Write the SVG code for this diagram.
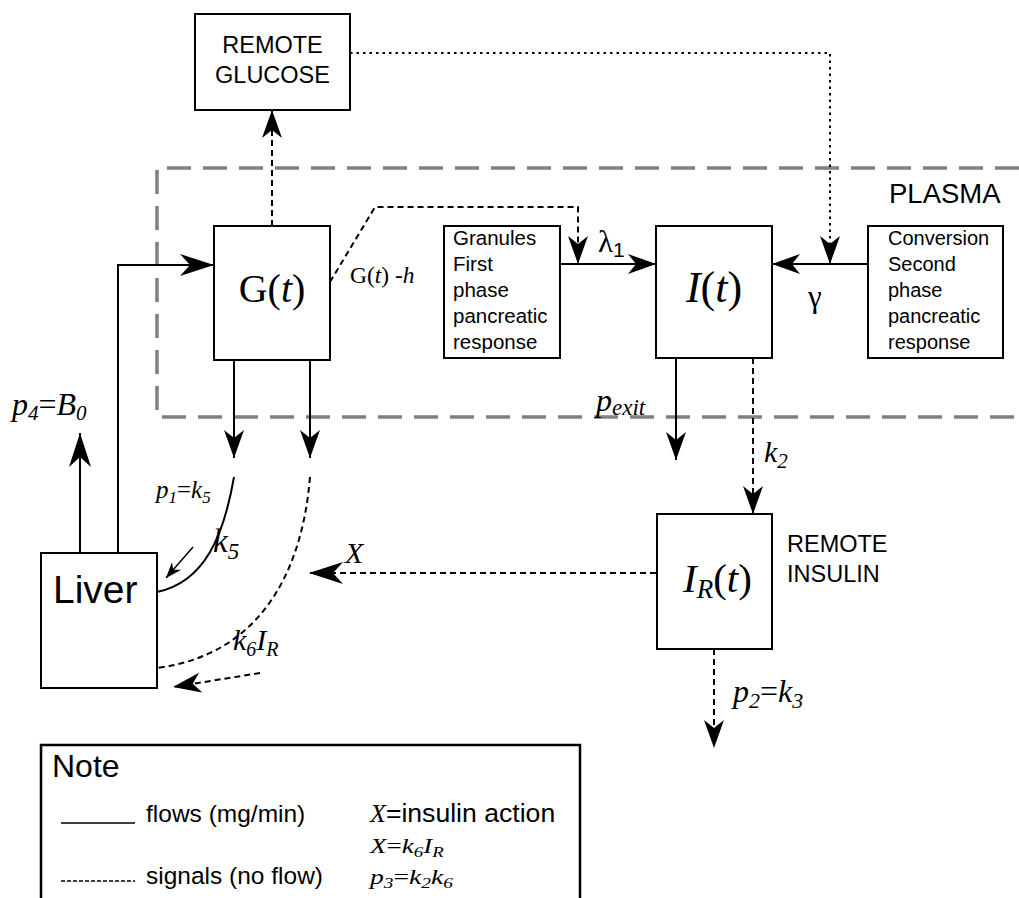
<svg xmlns="http://www.w3.org/2000/svg" width="1019" height="898" viewBox="0 0 1019 898">
  <defs>
    <style>
      .box { fill: #fff; stroke: #000; stroke-width: 2; }
      .flow { fill: none; stroke: #000; stroke-width: 2; }
      .sig { fill: none; stroke: #000; stroke-width: 2; stroke-dasharray: 6 4; }
      .dot { fill: none; stroke: #000; stroke-width: 2; stroke-dasharray: 2.5 4; }
      .plasma { fill: none; stroke: #808080; stroke-width: 3.5; stroke-dasharray: 24 12; }
      .sans { font-family: "Liberation Sans", Arial, sans-serif; fill: #000; }
      .math { font-family: "Liberation Serif", "Times New Roman", serif; font-style: italic; fill: #000; }
      .rm { font-style: normal; }
    </style>
    <marker id="big" markerUnits="userSpaceOnUse" markerWidth="34" markerHeight="22" refX="34" refY="11" orient="auto">
      <path d="M0,0 L34,11 L0,22 L10,11 z" fill="#000"/>
    </marker>
    <marker id="med" markerUnits="userSpaceOnUse" markerWidth="28" markerHeight="20" refX="28" refY="10" orient="auto">
      <path d="M0,0 L28,10 L0,20 L8,10 z" fill="#000"/>
    </marker>
    <marker id="small" markerUnits="userSpaceOnUse" markerWidth="16" markerHeight="12" refX="16" refY="6" orient="auto">
      <path d="M0,0 L16,6 L0,12 L5,6 z" fill="#000"/>
    </marker>
  </defs>

  <rect width="1019" height="898" fill="#fff"/>

  <!-- plasma compartment boundary -->
  <path class="plasma" d="M1019,168 H157 V417 H1019"/>
  <text class="sans" x="889" y="203" font-size="27.5">PLASMA</text>

  <!-- connectors -->
  <g id="connectors">
    <!-- liver to G(t) -->
    <path class="flow" d="M118,553 V265 H214" marker-end="url(#big)"/>
    <!-- liver output -->
    <path class="flow" d="M80,553 V433" marker-end="url(#big)"/>
    <!-- G(t) to remote glucose -->
    <path class="sig" d="M272,226 V110" marker-end="url(#med)"/>
    <!-- G(t) - h signal to first phase -->
    <path class="sig" d="M330,282 L375,207 H578 V264" marker-end="url(#med)"/>
    <!-- remote glucose to second phase -->
    <path class="dot" d="M350,53 H830 V264" marker-end="url(#med)"/>
    <!-- first phase into I(t) -->
    <path class="flow" d="M560,264 H656" marker-end="url(#med)"/>
    <!-- second phase into I(t) -->
    <path class="flow" d="M868,264 H772" marker-end="url(#med)"/>
    <!-- G(t) outflows -->
    <path class="flow" d="M234,360 V458" marker-end="url(#med)"/>
    <path class="flow" d="M310,360 V458" marker-end="url(#med)"/>
    <!-- glucose uptake curves -->
    <path class="flow" d="M234,477 C224,535 205,582 157,592"/>
    <path class="sig" d="M310,477 C302,575 258,655 157,668"/>
    <path class="flow" style="stroke-width:1.5" d="M193,547 L166,578" marker-end="url(#small)"/>
    <path class="sig" d="M260,673 L173,687" marker-end="url(#med)"/>
    <!-- I(t) outflows -->
    <path class="flow" d="M676,358 V460" marker-end="url(#med)"/>
    <path class="sig" d="M753,358 V514" marker-end="url(#med)"/>
    <!-- insulin action X -->
    <path class="sig" d="M656,573 H309" marker-end="url(#big)"/>
    <!-- remote insulin clearance -->
    <path class="sig" d="M714,649 V748" marker-end="url(#med)"/>
  </g>

  <!-- connector labels -->
  <text class="math" x="350" y="283" font-size="23.5"><tspan class="rm">G(</tspan>t<tspan class="rm">) -</tspan>h</text>
  <text class="math rm" x="598" y="252" font-size="31">λ<tspan class="sans" font-size="21" dy="5">1</tspan></text>
  <text class="math rm" x="808" y="307" font-size="31">γ</text>
  <text class="math" x="596" y="411" font-size="32">p<tspan font-size="23" dy="4">exit</tspan></text>
  <text class="math" x="764" y="462" font-size="30">k<tspan font-size="21" dy="6">2</tspan></text>
  <text class="math" x="345" y="563" font-size="30">X</text>
  <text class="math" x="733" y="702" font-size="32">p<tspan font-size="22" dy="6">2</tspan><tspan class="rm" dy="-6">=</tspan>k<tspan font-size="22" dy="6">3</tspan></text>
  <text class="math" x="156" y="498" font-size="25">p<tspan font-size="17" dy="5">1</tspan><tspan class="rm" dy="-5">=</tspan>k<tspan font-size="17" dy="5">5</tspan></text>
  <text class="math" x="213" y="552" font-size="33">k<tspan font-size="23" dy="7">5</tspan></text>
  <text class="math" x="233" y="650" font-size="30">k<tspan font-size="20" dy="6">6</tspan><tspan dy="-6">I</tspan><tspan font-size="20" dy="6">R</tspan></text>
  <text class="math" x="12" y="415" font-size="32">p<tspan font-size="21" dy="5">4</tspan><tspan class="rm" dy="-5">=</tspan>B<tspan font-size="21" dy="5">0</tspan></text>

  <!-- nodes -->
  <g id="remote-glucose">
    <rect class="box" x="195" y="14" width="155" height="96"/>
    <text class="sans" x="272.5" y="53" font-size="23.5" text-anchor="middle">REMOTE</text>
    <text class="sans" x="272.5" y="83" font-size="23.5" text-anchor="middle">GLUCOSE</text>
  </g>

  <g id="glucose">
    <rect class="box" x="214" y="226" width="116" height="134"/>
    <text class="math rm" x="272" y="302" font-size="40" text-anchor="middle">G(<tspan font-style="italic">t</tspan>)</text>
  </g>

  <g id="first-phase">
    <rect class="box" x="444" y="226" width="116" height="132"/>
    <text class="sans" x="453" y="245" font-size="20.5">Granules</text>
    <text class="sans" x="453" y="271" font-size="20.5">First</text>
    <text class="sans" x="453" y="297" font-size="20.5">phase</text>
    <text class="sans" x="453" y="323" font-size="20.5">pancreatic</text>
    <text class="sans" x="453" y="349" font-size="20.5">response</text>
  </g>

  <g id="insulin">
    <rect class="box" x="656" y="226" width="116" height="132"/>
    <text class="math" x="714" y="302" font-size="44" text-anchor="middle">I<tspan class="rm">(</tspan>t<tspan class="rm">)</tspan></text>
  </g>

  <g id="second-phase">
    <rect class="box" x="868" y="226" width="135" height="132"/>
    <text class="sans" x="888" y="245" font-size="20">Conversion</text>
    <text class="sans" x="888" y="271" font-size="20">Second</text>
    <text class="sans" x="888" y="297" font-size="20">phase</text>
    <text class="sans" x="888" y="323" font-size="20">pancreatic</text>
    <text class="sans" x="888" y="349" font-size="20">response</text>
  </g>

  <g id="remote-insulin">
    <rect class="box" x="657" y="514" width="115" height="135"/>
    <text class="math" x="683" y="592" font-size="41">I<tspan font-size="27" dy="6">R</tspan><tspan class="rm" dy="-6">(</tspan>t<tspan class="rm">)</tspan></text>
    <text class="sans" x="787" y="552" font-size="23.5">REMOTE</text>
    <text class="sans" x="787" y="582" font-size="23.5">INSULIN</text>
  </g>

  <g id="liver">
    <rect class="box" x="41" y="553" width="116" height="135"/>
    <text class="sans" x="53" y="603" font-size="39">Liver</text>
  </g>

  <!-- legend -->
  <g id="note">
    <path d="M41,898 V745 H580 V898" fill="none" stroke="#000" stroke-width="2.5"/>
    <text class="sans" x="52" y="777" font-size="32">Note</text>
    <path d="M61,823 H135" stroke="#000" stroke-width="1.5"/>
    <text class="sans" x="146" y="822" font-size="24.5">flows (mg/min)</text>
    <path d="M61,881 H135" stroke="#000" stroke-width="1.5" stroke-dasharray="4 2"/>
    <text class="sans" x="146" y="884" font-size="24.5">signals (no flow)</text>
    <text class="sans" x="370" y="822" font-size="26.6"><tspan class="math" font-size="26">X</tspan>=insulin action</text>
    <!-- equation objects are stretched horizontally -->
    <text class="math" transform="translate(370,853) scale(1.35,1)" font-size="20">X<tspan class="rm">=</tspan>k<tspan font-size="14" dy="4">6</tspan><tspan dy="-4">I</tspan><tspan font-size="14" dy="4">R</tspan></text>
    <text class="math" transform="translate(370,884) scale(1.38,1)" font-size="20">p<tspan font-size="14" dy="4">3</tspan><tspan class="rm" dy="-4">=</tspan>k<tspan font-size="14" dy="4">2</tspan><tspan dy="-4">k</tspan><tspan font-size="14" dy="4">6</tspan></text>
  </g>
</svg>
